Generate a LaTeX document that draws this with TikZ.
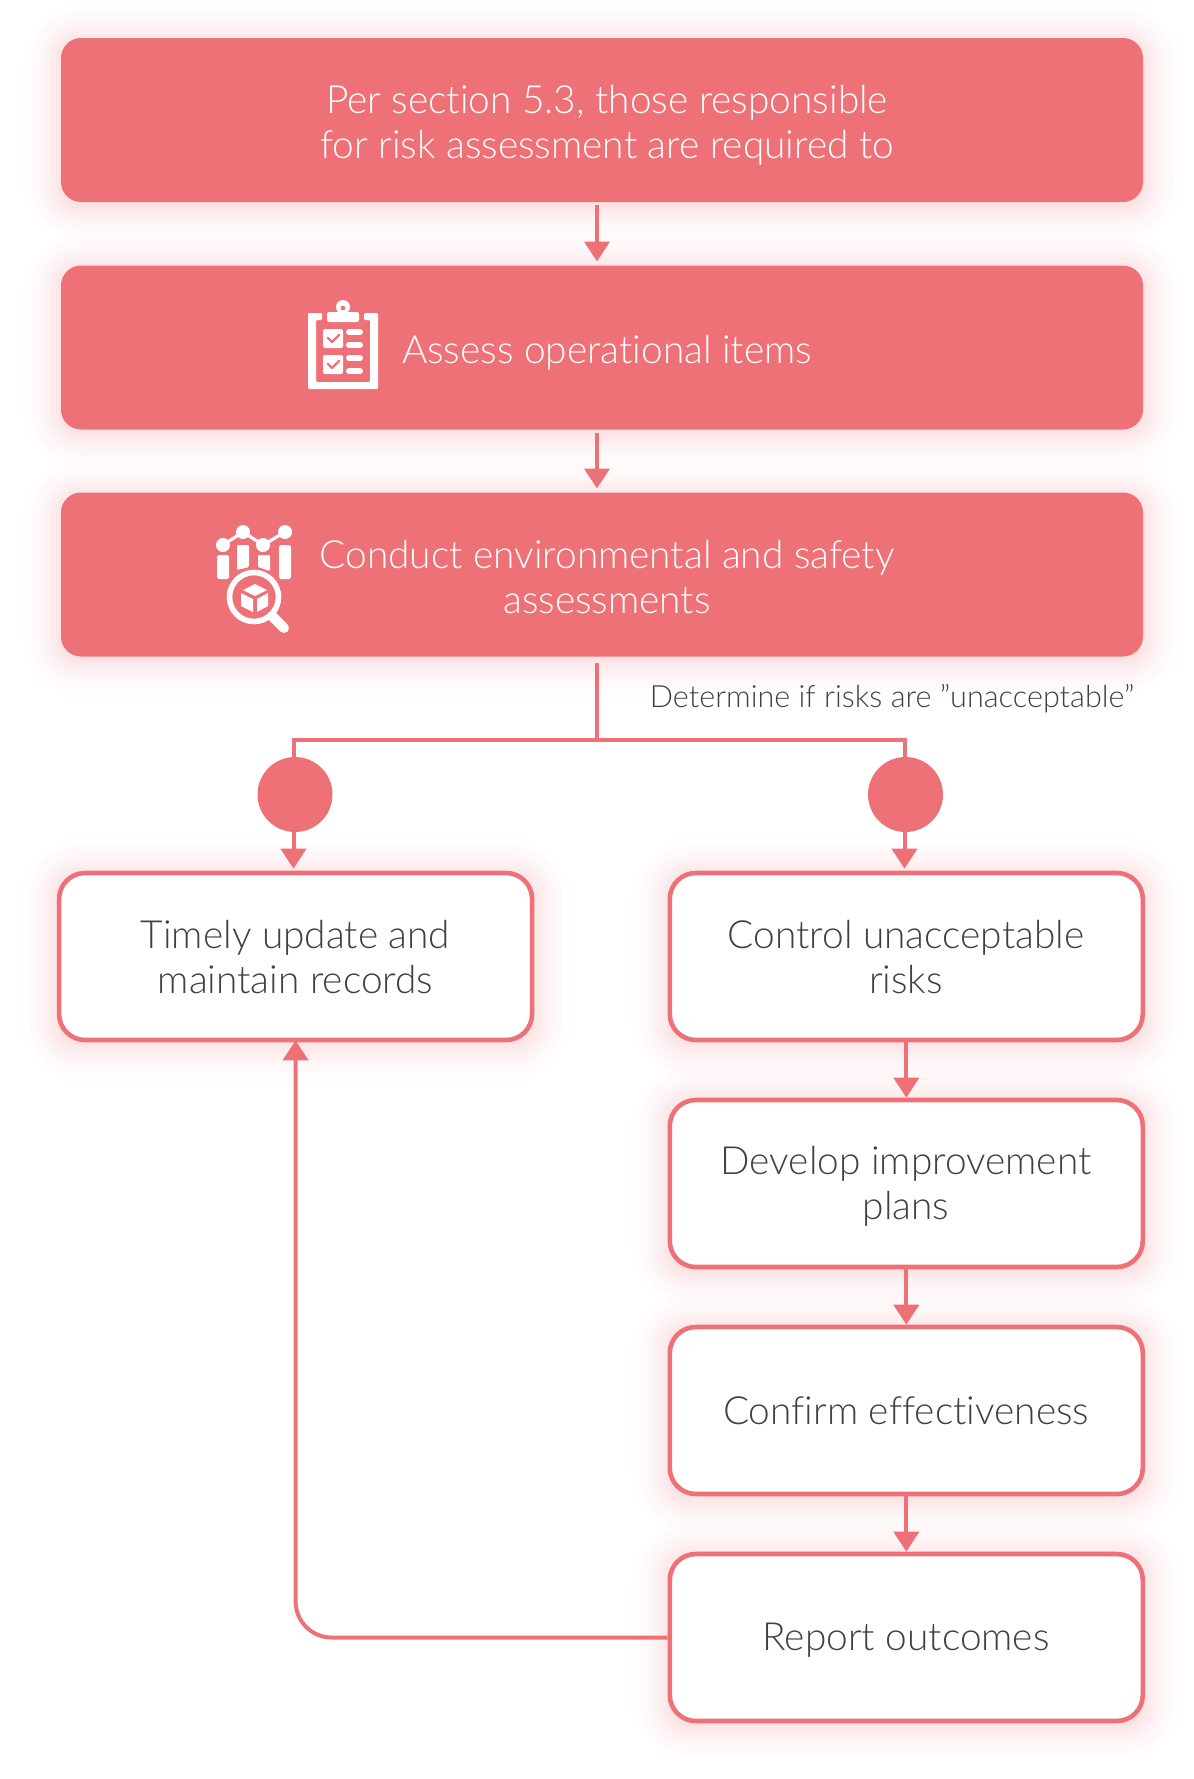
\documentclass[tikz,border=0pt]{standalone}
\usepackage{fontspec}
\setmainfont{Lato Light}[RawFeature={-liga;-clig;-dlig}]
\usetikzlibrary{arrows.meta}
\definecolor{brand}{HTML}{EE7177}
\definecolor{glowc}{HTML}{E8676E}
\definecolor{ink}{HTML}{404040}
\newcommand{\bigtxt}{\fontsize{19.4}{22.5}\selectfont}
\newcommand{\softglow}[4]{%
  \foreach \g in {1,2,3,5,7,9,11,14,17,21,25,30,36}{%
    \pgfmathsetmacro{\rr}{10+\g*0.5}%
    \fill[glowc,fill opacity=.016,rounded corners=\rr pt]
      ({#1-#3/2-\g},{#2-#4/2-\g+3}) rectangle ({#1+#3/2+\g},{#2+#4/2+\g+3});
  }}
\tikzset{
  solidbox/.style={fill=brand,rounded corners=10pt,minimum width=541pt,minimum height=82pt,inner sep=0pt,outer sep=0pt},
  linebox/.style={draw=brand,fill=white,line width=2.3pt,rounded corners=13pt,minimum width=236.5pt,minimum height=83.5pt,inner sep=0pt,outer sep=1.15pt},
  whitetxt/.style={text=white,align=center,font=\bigtxt,inner sep=0pt},
  darktxt/.style={text=ink,align=center,font=\bigtxt,inner sep=0pt},
  dot/.style={circle,fill=brand,minimum size=37.5pt,inner sep=0pt,outer sep=0pt},
  wire/.style={draw=brand,line width=2pt},
  arrowed/.style={wire,-{Triangle[width=12.5pt,length=10pt]},shorten >=0pt},
  note/.style={text=ink,font=\fontsize{15.3}{17}\selectfont,inner sep=0pt},
  iconstroke/.style={draw=white,line cap=round,line join=round}
}
\begin{document}
\begin{tikzpicture}[x=0.5pt,y=-0.5pt]
\useasboundingbox (0,0) rectangle (1194,1779);
\softglow{602}{120}{1082}{164}
\softglow{602}{347.5}{1082}{163}
\softglow{602}{574.5}{1082}{163}
\softglow{295.6}{956.5}{473}{167}
\softglow{906.3}{956.5}{473}{167}
\softglow{906.3}{1183.5}{473}{167}
\softglow{906.3}{1410.5}{473}{167}
\softglow{906.3}{1637.5}{473}{167}

\node[solidbox] (b1) at (602,120) {};
\node[solidbox] (b2) at (602,347.5) {};
\node[solidbox] (b3) at (602,574.5) {};
\node[whitetxt] (t1) at (607,125) {Per section 5.3, those responsible\\for risk assessment are required to};
\node[whitetxt] (t2) at (607,353) {Assess operational items};
\node[whitetxt] (t3) at (607,577) {Conduct environmental and safety\\assessments};
\node[note] (n1) at (892,699) {Determine if risks are \char"22 unacceptable\char"22};

\node[linebox] (l1) at (295.6,956.5) {};
\node[linebox] (r1) at (906.3,956.5) {};
\node[linebox] (r2) at (906.3,1183.5) {};
\node[linebox] (r3) at (906.3,1410.5) {};
\node[linebox] (r4) at (906.3,1637.5) {};
\node[darktxt] (tl1) at (295.5,957.5) {Timely update and\\maintain records};
\node[darktxt] (tr1) at (906,957.5) {Control unacceptable\\risks};
\node[darktxt] (tr2) at (906,1186.5) {Develop improvement\\plans};
\node[darktxt] (tr3) at (906,1410.5) {Confirm effectiveness};
\node[darktxt] (tr4) at (906,1640.5) {Report outcomes};
\node[dot] (dl) at (295,794.5) {};
\node[dot] (dr) at (905.5,794.5) {};

\coordinate (ax) at (597,0);
\coordinate (j) at (597,740);
\coordinate (lx) at (293.5,0);
\coordinate (rx) at (904.5,0);
\draw[arrowed,shorten >=2pt,shorten <=1.5pt] (b1.south -| ax) -- (b2.north -| ax);
\draw[arrowed,shorten >=2pt,shorten <=1.5pt] (b2.south -| ax) -- (b3.north -| ax);
\draw[wire,shorten <=3pt] (b3.south -| ax) -- (j);
\draw[wire] (dl.north -| lx) |- (j) -| (dr.north -| rx);
\draw[arrowed,shorten >=1pt] (dl.south -| lx) -- (l1.north -| lx);
\draw[arrowed,shorten >=1pt] (dr.south -| rx) -- (r1.north -| rx);
\draw[arrowed] (r1.south) -- (r2.north);
\draw[arrowed] (r2.south) -- (r3.north);
\draw[arrowed] (r3.south) -- (r4.north);
\draw[arrowed,shorten >=-1pt,rounded corners=18pt] (r4.west) -| (l1.south);

% clipboard icon
\fill[white,even odd rule,rounded corners=0.6pt]
  (308,313) -- (322,313) -- (322,320) -- (316,320) -- (316,382) -- (370,382) -- (370,320) -- (364,320) -- (364,313) -- (378,313) -- (378,389) -- (308,389) -- cycle;
\fill[white,rounded corners=1pt] (327,312) rectangle (359,322);
\fill[white,even odd rule] (343,307) circle[radius=7] (343,308) circle[radius=2.5];
\fill[white,rounded corners=1pt] (323,329) rectangle (343,348);
\fill[white,rounded corners=1pt] (323,355) rectangle (343,374);
\foreach \yy in {332,345,358,371}{\draw[white,line width=3pt,line cap=round] (349,\yy) -- (360,\yy);}
\draw[brand,line width=1.2pt,line cap=round,line join=round] (328,338) -- (332,342) -- (339,335);
\draw[brand,line width=1.2pt,line cap=round,line join=round] (328,364) -- (332,368) -- (339,361);

% analysis icon
\draw[iconstroke,line width=1.6pt] (223,545) -- (243,532) -- (263,545) -- (285,532);
\foreach \px/\py in {223/545,243/532,263/545,285/532}{\fill[white] (\px,\py) circle[radius=7];}
\fill[white,rounded corners=0.8pt] (217,555) rectangle (229,579);
\fill[white,rounded corners=0.6pt] (237,545) -- (249,545) -- (249,567) -- (237,570) -- cycle;
\fill[white,rounded corners=0.6pt] (258,555) -- (270,555) -- (270,571) -- (258,567) -- cycle;
\fill[white,rounded corners=0.8pt] (279,545) rectangle (291,579);
\draw[white,line width=2.8pt] (254,597) circle[radius=24.5];
\draw[white,line width=5pt,line cap=round] (272,616) -- (284,628);
\fill[white] (255,584) -- (267,590) -- (255,596) -- (243,590) -- cycle;
\fill[white] (241,593) -- (253,599) -- (253,612) -- (241,606) -- cycle;
\fill[white] (257,599) -- (268,593) -- (268,606) -- (257,612) -- cycle;
\end{tikzpicture}
\end{document}
